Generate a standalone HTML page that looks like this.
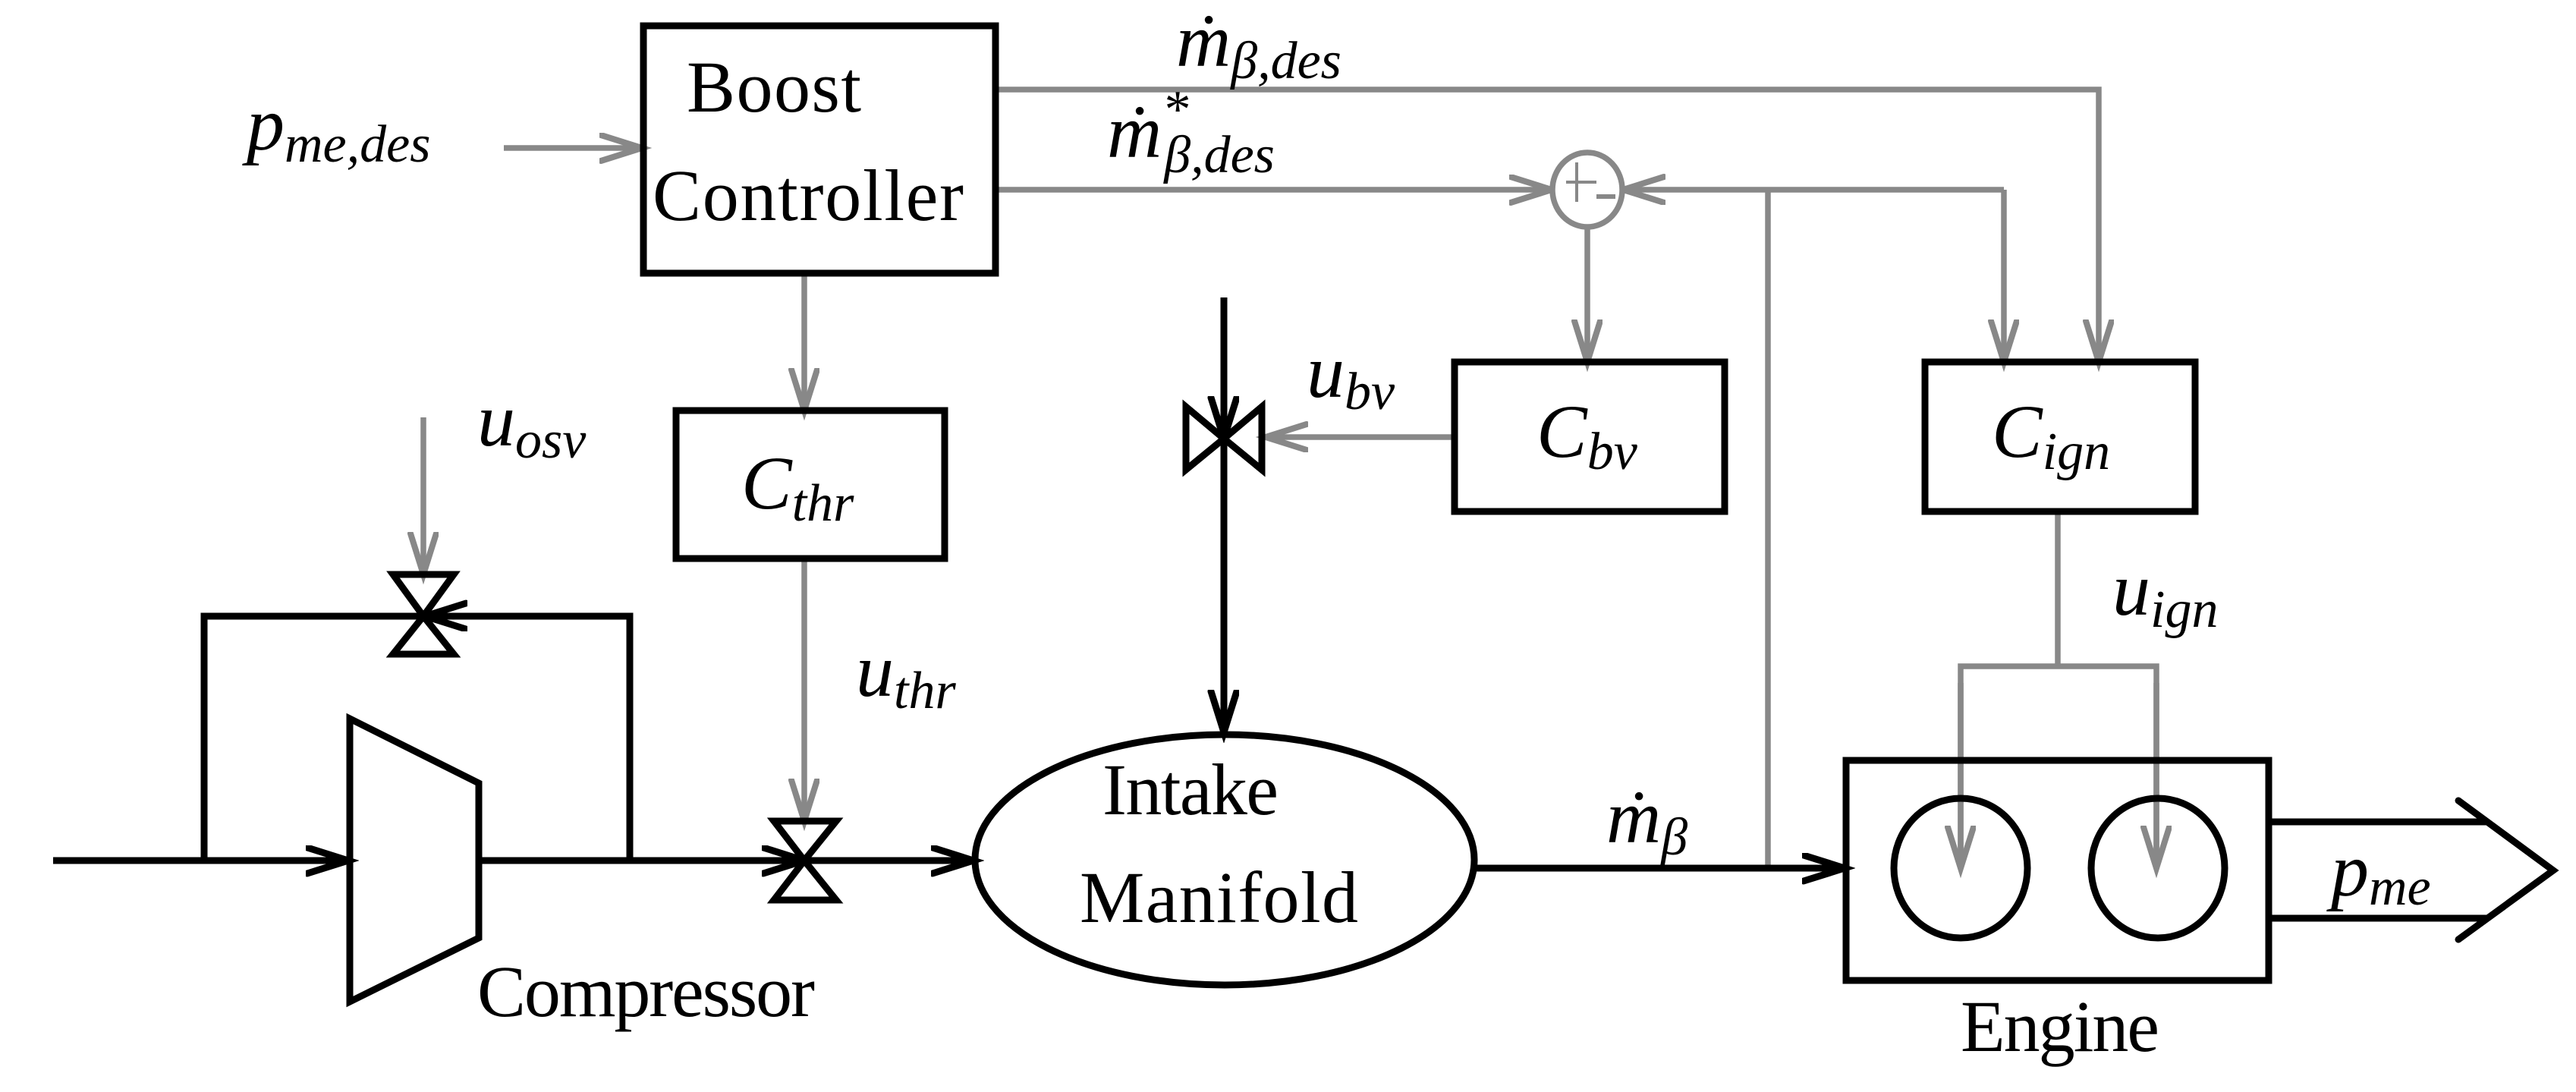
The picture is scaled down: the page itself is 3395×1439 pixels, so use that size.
<!DOCTYPE html>
<html><head><meta charset="utf-8"><style>
html,body{margin:0;padding:0;background:#fff;}
svg{display:block;}
.m{font-family:"Liberation Serif",serif;font-style:italic;}
.r{font-family:"Liberation Serif",serif;}
</style></head><body>
<svg width="3395" height="1439" viewBox="0 0 3395 1439" xmlns="http://www.w3.org/2000/svg">
<defs>
<marker id="ag" markerUnits="userSpaceOnUse" markerWidth="70" markerHeight="50" refX="56" refY="20" orient="auto">
<path d="M2,3 L56,20 L2,37" fill="none" stroke="#888" stroke-width="8" stroke-linecap="round"/>
</marker>
<marker id="ab" markerUnits="userSpaceOnUse" markerWidth="70" markerHeight="50" refX="56" refY="20" orient="auto">
<path d="M2,3 L56,20 L2,37" fill="none" stroke="#000" stroke-width="9" stroke-linecap="round"/>
</marker>
</defs>
<g fill="none" stroke="#888" stroke-width="7.5">
<line x1="664" y1="195" x2="846" y2="195" marker-end="url(#ag)"/>
<polyline points="1312,118 2766,118 2766,477" marker-end="url(#ag)"/>
<line x1="1312" y1="250" x2="2045" y2="250" marker-end="url(#ag)"/>
<line x1="2330" y1="1144" x2="2330" y2="250"/>
<line x1="2641" y1="250" x2="2139" y2="250" marker-end="url(#ag)"/>
<line x1="2641" y1="250" x2="2641" y2="477" marker-end="url(#ag)"/>
<line x1="2092" y1="300" x2="2092" y2="477" marker-end="url(#ag)"/>
<line x1="1060" y1="360" x2="1060" y2="541" marker-end="url(#ag)"/>
<line x1="1917" y1="576" x2="1668" y2="576" marker-end="url(#ag)"/>
<line x1="558" y1="550" x2="558" y2="757" marker-end="url(#ag)"/>
<line x1="1060" y1="736" x2="1060" y2="1082" marker-end="url(#ag)"/>
<line x1="2712" y1="674" x2="2712" y2="878"/>
<polyline points="2584,1144 2584,878 2842,878 2842,1144"/>
<line x1="2584" y1="900" x2="2584" y2="1144" marker-end="url(#ag)"/>
<line x1="2842" y1="900" x2="2842" y2="1144" marker-end="url(#ag)"/>
<ellipse cx="2092" cy="250" rx="46" ry="49" fill="#fff"/>
<line x1="2064" y1="240" x2="2104" y2="240" stroke-width="4"/>
<line x1="2078" y1="214" x2="2078" y2="266" stroke-width="4"/>
<line x1="2104" y1="259" x2="2129" y2="259" stroke-width="6"/>
</g>
<g fill="none" stroke="#000" stroke-width="9">
<rect x="848" y="34" width="464" height="326"/>
<rect x="891" y="541" width="354" height="195"/>
<rect x="1917" y="477" width="356" height="197"/>
<rect x="2537" y="477" width="356" height="197"/>
<rect x="2433" y="1002" width="557" height="290"/>
<ellipse cx="2584" cy="1144" rx="88" ry="92"/>
<ellipse cx="2844" cy="1144" rx="88" ry="92"/>
<ellipse cx="1614" cy="1133" rx="329" ry="165"/>
<polygon points="461,947 631,1032 631,1236 461,1320"/>
<line x1="70" y1="1134" x2="459" y2="1134" marker-end="url(#ab)"/>
<line x1="631" y1="1134" x2="1060" y2="1134" marker-end="url(#ab)"/>
<line x1="1060" y1="1134" x2="1283" y2="1134" marker-end="url(#ab)"/>
<polyline points="269,1134 269,812 830,812 830,1134"/>
<line x1="830" y1="812" x2="560" y2="812" marker-end="url(#ab)"/>
<line x1="1944" y1="1144" x2="2431" y2="1144" marker-end="url(#ab)"/>
<line x1="1613" y1="392" x2="1613" y2="578" marker-end="url(#ab)"/>
<line x1="1613" y1="578" x2="1613" y2="965" marker-end="url(#ab)"/>
<polygon points="518,757 598,757 558,812" />
<polygon points="558,812 518,862 598,862"/>
<polygon points="1020,1082 1102,1082 1060,1134"/>
<polygon points="1060,1134 1020,1186 1102,1186"/>
<polygon points="1563,536 1563,619 1613,578"/>
<polygon points="1663,536 1663,619 1613,578"/>
<line x1="2990" y1="1083" x2="3277" y2="1083"/>
<line x1="2990" y1="1210" x2="3277" y2="1210"/>
<polyline points="3240,1055 3365,1147 3240,1238" stroke-linecap="round"/>
</g>
<g fill="#000">
<text class="r" x="905" y="147" font-size="96" textLength="230">Boost</text>
<text class="r" x="860" y="290" font-size="96" textLength="410">Controller</text>
<text class="r" x="1453" y="1073" font-size="96" textLength="232">Intake</text>
<text class="r" x="1423" y="1215" font-size="96" textLength="367">Manifold</text>
<text class="r" x="629" y="1339" font-size="96" textLength="445">Compressor</text>
<text class="r" x="2584" y="1385" font-size="96" textLength="262">Engine</text>
<text class="m" x="325" y="197" font-size="100">p<tspan font-size="70" dy="16">me,des</tspan></text>
<text class="m" x="1550" y="87" font-size="100">ṁ<tspan font-size="70" dy="16">β,des</tspan></text>
<text class="m" x="1459" y="207" font-size="100">ṁ<tspan font-size="70" dy="-40">*</tspan><tspan font-size="70" dx="-32" dy="60">β,des</tspan></text>
<text class="m" x="629" y="587" font-size="100">u<tspan font-size="70" dy="16">osv</tspan></text>
<text class="m" x="977" y="670" font-size="100">C<tspan font-size="70" dy="16">thr</tspan></text>
<text class="m" x="1128" y="917" font-size="100">u<tspan font-size="70" dy="16">thr</tspan></text>
<text class="m" x="1722" y="523" font-size="100">u<tspan font-size="70" dy="16">bv</tspan></text>
<text class="m" x="2025" y="602" font-size="100">C<tspan font-size="70" dy="16">bv</tspan></text>
<text class="m" x="2625" y="602" font-size="100">C<tspan font-size="70" dy="16">ign</tspan></text>
<text class="m" x="2784" y="810" font-size="100">u<tspan font-size="70" dy="16">ign</tspan></text>
<text class="m" x="2117" y="1110" font-size="100">ṁ<tspan font-size="70" dy="16">β</tspan></text>
<text class="m" x="3072" y="1180" font-size="100">p<tspan font-size="70" dy="12">me</tspan></text>
</g>
</svg>
</body></html>
